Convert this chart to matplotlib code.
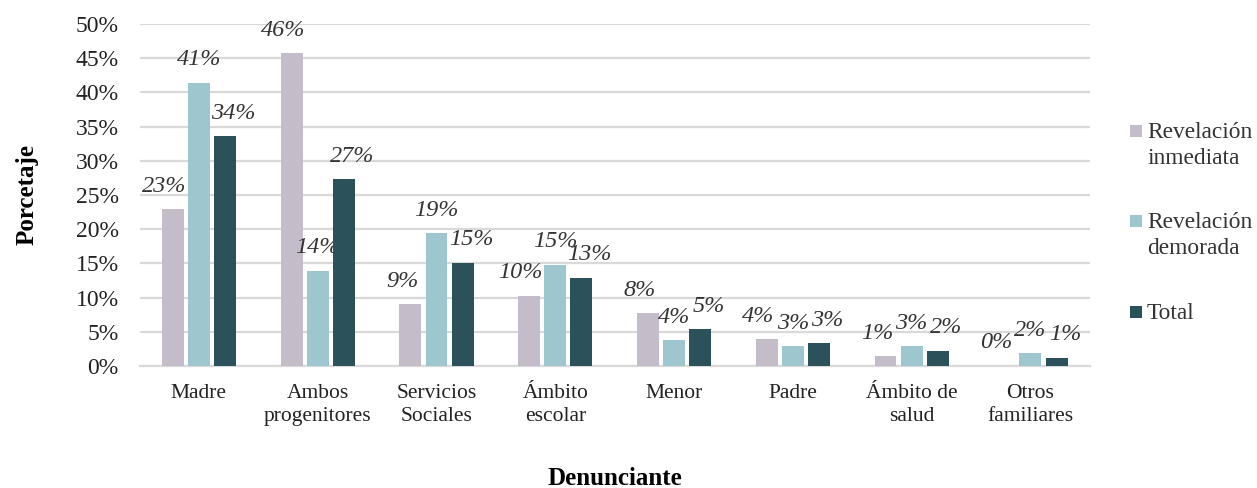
import numpy as np
import matplotlib
matplotlib.use("Agg")
import matplotlib.pyplot as plt
from matplotlib.patches import Rectangle

plt.rcParams['font.family'] = ['Liberation Serif', 'DejaVu Serif']

# data (percent)
categories = ["Madre", "Ambos\nprogenitores", "Servicios\nSociales", "Ámbito\nescolar",
              "Menor", "Padre", "Ámbito de\nsalud", "Otros\nfamiliares"]
inmediata = [22.9, 45.7, 9.0, 10.3, 7.7, 3.9, 1.4, 0.0]
demorada = [41.4, 13.9, 19.4, 14.8, 3.8, 2.9, 2.9, 1.9]
total = [33.6, 27.3, 15.1, 12.9, 5.4, 3.3, 2.2, 1.2]

series_names = ["Revelación\ninmediata", "Revelación\ndemorada", "Total"]
colors = ["#C4BCC9", "#9DC6CE", "#2B525A"]

W, H = 1257, 488
fig = plt.figure(figsize=(W / 100, H / 100), dpi=100)
ax = fig.add_axes([0.111, 0.25, 0.756, 0.701])

x = np.arange(len(categories))
width = 0.185
offsets = [-0.22, 0.0, 0.22]
label_dx = [-6, 0, 6]

for vals, off, col, dx in zip([inmediata, demorada, total], offsets, colors, label_dx):
    bars = ax.bar(x + off, vals, width, color=col, zorder=3)
    for b, v in zip(bars, vals):
        ax.annotate(f"{round(v):.0f}%", (b.get_x() + b.get_width() / 2, v),
                    xytext=(dx, 9), textcoords="offset points",
                    ha="center", va="bottom", fontsize=17.5, style="italic",
                    color="#333333")

ax.set_xlim(-0.5, len(categories) - 0.5)
ax.set_ylim(0, 50)
ax.set_yticks(np.arange(0, 51, 5))
ax.set_yticklabels([f"{t}%" for t in range(0, 51, 5)])
ax.set_xticks(x)
ax.set_xticklabels(categories, linespacing=1.3)
ax.tick_params(axis="y", labelsize=17, length=0, pad=15, colors="#222222")
ax.tick_params(axis="x", labelsize=15.5, length=0, pad=13, colors="#222222")

ax.grid(axis="y", color="#D9D9D9", linewidth=1.6, zorder=0)
for s in ["top", "right", "left"]:
    ax.spines[s].set_visible(False)
ax.spines["bottom"].set_color("#D9D9D9")
ax.spines["bottom"].set_linewidth(1.6)

ax.set_ylabel("Porcetaje", fontsize=18, fontweight="bold", va="center")
ax.yaxis.set_label_coords(-0.118, 0.5)
ax.set_xlabel("Denunciante", fontsize=18, fontweight="bold", va="center")
ax.xaxis.set_label_coords(0.5, -0.328)

# legend drawn by hand so the swatch sits on the first text line, like Excel
legend_rows = [131, 221, 312]   # pixel row of each entry's first line
for name, col, row in zip(series_names, colors, legend_rows):
    fig.patches.append(Rectangle((1130 / W, 1 - (row + 6) / H), 12 / W, 12 / H,
                                 transform=fig.transFigure, facecolor=col,
                                 edgecolor="none"))
    fig.text(1147 / W, 1 - (row - 9) / H, name, fontsize=16.8, color="#333333",
             ha="left", va="top", linespacing=1.3)

fig.savefig("out.png", dpi=100)
